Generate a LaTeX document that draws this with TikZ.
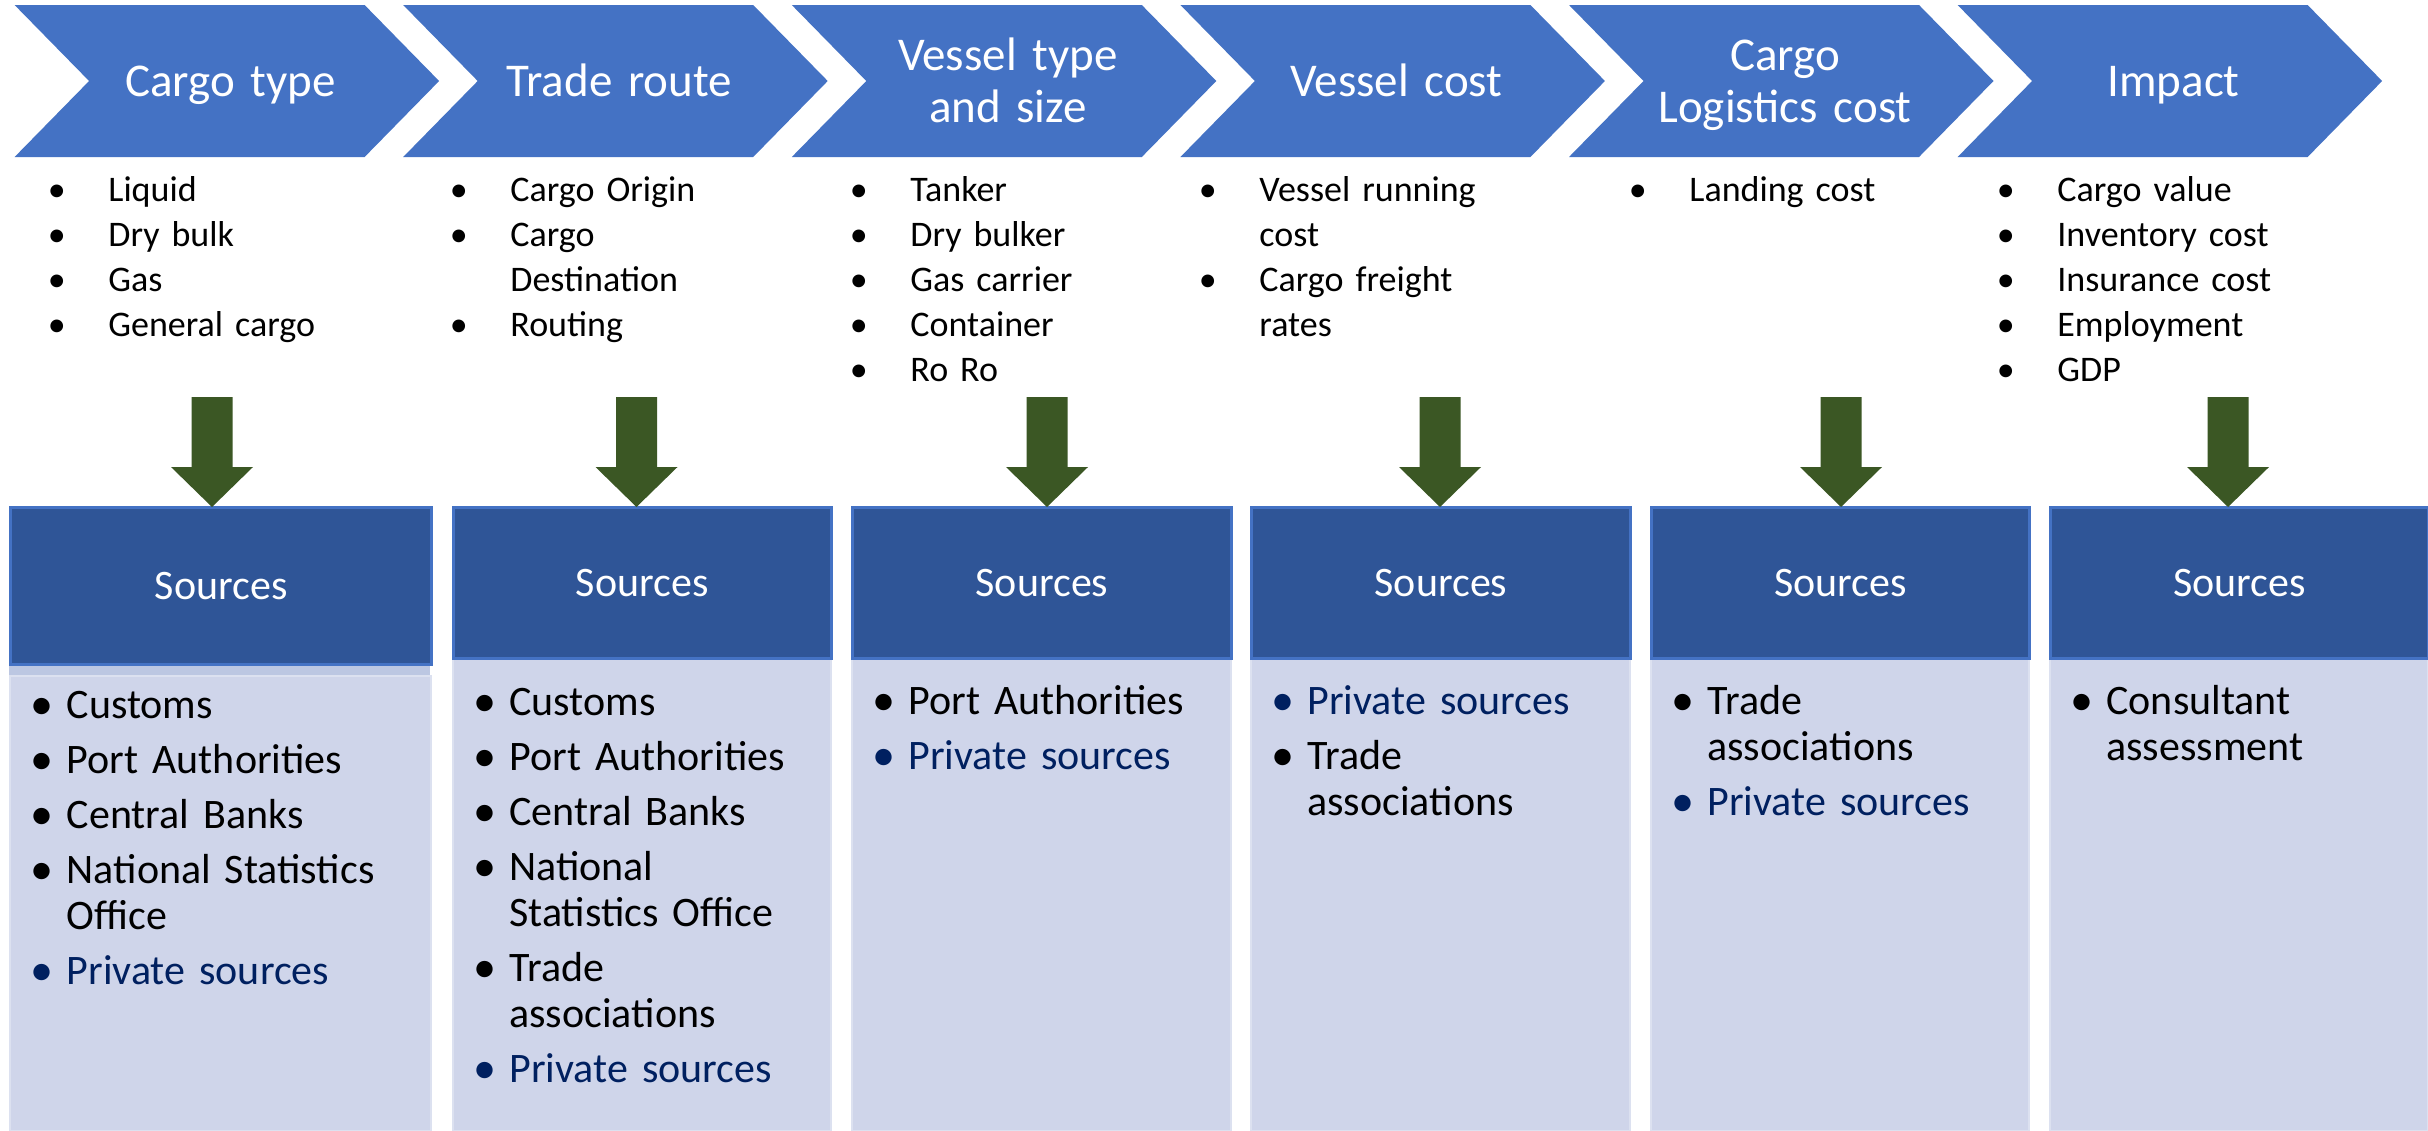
\documentclass[tikz,border=0pt]{standalone}
\usepackage{fontspec}
\setmainfont{Carlito}
\usetikzlibrary{calc}
\definecolor{chev}{HTML}{4472C4}
\definecolor{hdrfill}{HTML}{2F5597}
\definecolor{hdrline}{HTML}{4472C4}
\definecolor{bodyfill}{HTML}{CFD5EA}
\definecolor{bodyline}{HTML}{DCE1F0}
\definecolor{bandfill}{HTML}{BCC7E2}
\definecolor{arrowgreen}{HTML}{3B5724}
\definecolor{navy}{HTML}{002060}
\newcommand{\ub}[1]{\noindent\hangindent=30.25pt\hangafter=1\makebox[30.25pt][l]{\textbullet}#1\par}
\newcommand{\bb}[1]{\noindent\hangindent=18pt\hangafter=1\makebox[18pt][l]{\raisebox{-0.03em}{\scalebox{1.1}{\textbullet}}}#1\par}
\begin{document}
\begin{tikzpicture}[x=0.5pt,y=-0.5pt,
  chevtext/.style={text=white,font=\fontsize{23.5pt}{26pt}\selectfont,text width=175pt,align=center,anchor=base,inner sep=0pt},
  uplist/.style={text=black,font=\fontsize{18pt}{22.5pt}\selectfont,text width=170pt,anchor=base west,inner sep=0pt},
  hdr/.style={fill=hdrfill,draw=hdrline,line width=1.5pt,text=white,font=\fontsize{21pt}{25pt}\selectfont,anchor=north west,inner sep=0pt},
  bodybox/.style={fill=bodyfill,draw=bodyline,line width=1pt,anchor=north west,inner sep=0pt},
  bodylist/.style={text=black,font=\fontsize{21pt}{23pt}\selectfont,text width=175pt,anchor=base west,inner sep=0pt},
  blockarrow/.style={fill=arrowgreen}]
\useasboundingbox (0,0) rectangle (2428,1130);
\fill[white] (0,0) rectangle (2428,1130);
% chevrons
\foreach \L in {14.6,403.2,791.8,1180.4,1569,1957.6}{
  \fill[chev] (\L,5) -- ++(350,0) -- ++(74.5,76) -- ++(-74.5,76) -- ++(-350,0) -- ++(74.5,-76) -- cycle;
}
\node[chevtext] (c1) at (230.6,96) {Cargo type};
\node[chevtext] (c2) at (619.2,96) {Trade route};
\node[chevtext] (c3) at (1007.8,70) {Vessel type\\and size};
\node[chevtext] (c4) at (1396.4,96) {Vessel cost};
\node[chevtext] (c5) at (1785,70) {Cargo\\Logistics cost};
\node[chevtext] (c6) at (2173.6,96) {Impact};
% upper lists
\node[uplist] (u1) at (47.5,201.7) {\ub{Liquid}\ub{Dry bulk}\ub{Gas}\ub{General cargo}};
\node[uplist] (u2) at (449.5,201.7) {\ub{Cargo Origin}\ub{Cargo\newline Destination}\ub{Routing}};
\node[uplist] (u3) at (849.5,201.7) {\ub{Tanker}\ub{Dry bulker}\ub{Gas carrier}\ub{Container}\ub{Ro Ro}};
\node[uplist] (u4) at (1198.5,201.7) {\ub{Vessel running\newline cost}\ub{Cargo freight\newline rates}};
\node[uplist] (u5) at (1628.5,201.7) {\ub{Landing cost}};
\node[uplist] (u6) at (1996.5,201.7) {\ub{Cargo value}\ub{Inventory cost}\ub{Insurance cost}\ub{Employment}\ub{GDP}};
% bodies
\node[bodybox,minimum width=210.3pt,minimum height=227.5pt] (b1) at (9.4,675) {};
\fill[bandfill] (9.4,663) rectangle (430,675);
\node[bodybox,minimum width=188.75pt,minimum height=236.5pt] (b2) at (452,657) {};
\node[bodybox,minimum width=189.5pt,minimum height=236.5pt] (b3) at (851,657) {};
\node[bodybox,minimum width=189.5pt,minimum height=236.5pt] (b4) at (1250,657) {};
\node[bodybox,minimum width=189pt,minimum height=236.5pt] (b5) at (1650,657) {};
\node[bodybox,minimum width=189pt,minimum height=236.5pt] (b6) at (2049,657) {};
% headers
\node[hdr,minimum width=210.3pt,minimum height=78.5pt] (h1) at (9.4,506) {Sources};
\node[hdr,minimum width=188.75pt,minimum height=75.5pt] (h2) at (452,506) {Sources};
\node[hdr,minimum width=189.5pt,minimum height=75.5pt] (h3) at (851,506) {Sources};
\node[hdr,minimum width=189.5pt,minimum height=75.5pt] (h4) at (1250,506) {Sources};
\node[hdr,minimum width=189pt,minimum height=75.5pt] (h5) at (1650,506) {Sources};
\node[hdr,minimum width=189pt,minimum height=75.5pt] (h6) at (2049,506) {Sources};
% body lists
\node[bodylist] (l1) at (30.4,718) {\setlength{\parskip}{4.5pt}\bb{Customs}\bb{Port Authorities}\bb{Central Banks}\bb{National Statistics\newline Office}{\color{navy}\bb{Private sources}}};
\node[bodylist] (l2) at (473,715) {\setlength{\parskip}{4.5pt}\bb{Customs}\bb{Port Authorities}\bb{Central Banks}\bb{National\newline Statistics Office}\bb{Trade\newline associations}{\color{navy}\bb{Private sources}}};
\node[bodylist] (l3) at (872,714) {\setlength{\parskip}{4.5pt}\bb{Port Authorities}{\color{navy}\bb{Private sources}}};
\node[bodylist] (l4) at (1271,714) {\setlength{\parskip}{4.5pt}{\color{navy}\bb{Private sources}}\bb{Trade\newline associations}};
\node[bodylist] (l5) at (1671,714) {\setlength{\parskip}{4.5pt}\bb{Trade\newline associations}{\color{navy}\bb{Private sources}}};
\node[bodylist] (l6) at (2070,714) {\setlength{\parskip}{4.5pt}\bb{Consultant\newline assessment}};
% block arrows
\foreach \c in {212,636.5,1047,1440,1841,2228}{
  \fill[blockarrow] (\c-20.5,397) -- (\c+20.5,397) -- (\c+20.5,467) -- (\c+41,467) -- (\c,507) -- (\c-41,467) -- (\c-20.5,467) -- cycle;
}
\end{tikzpicture}
\end{document}
